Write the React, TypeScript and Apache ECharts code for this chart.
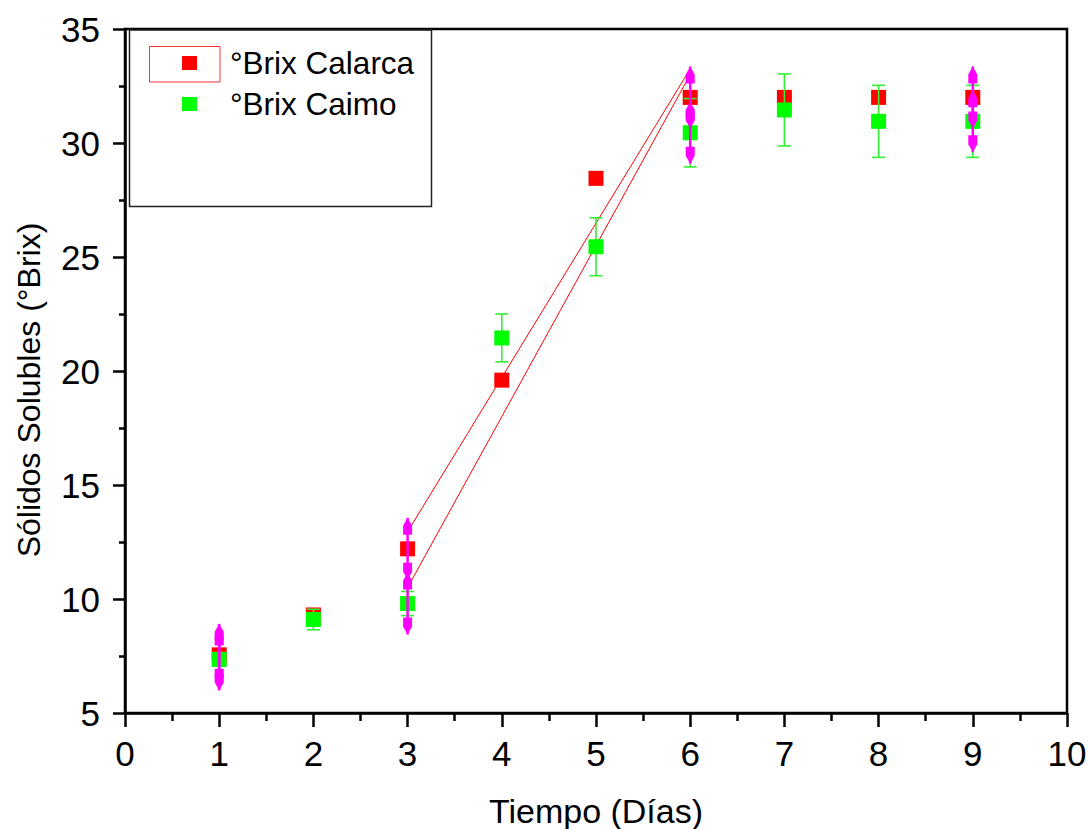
import React, { useEffect, useRef } from "react";
import * as echarts from "echarts";

const days = [1, 2, 3, 4, 5, 6, 7, 8, 9];
const calarca = [7.55, 9.3, 12.2, 19.6, 28.45, 32.0, 32.0, 32.0, 32.0];
const caimo = [7.35, 9.1, 9.8, 21.45, 25.45, 30.45, 31.45, 30.95, 30.95];
const caimoErr = [0.3, 0.45, 0.53, 1.05, 1.27, 1.5, 1.58, 1.58, 1.58];
const fitUpper = [
  [3, 12.95],
  [6, 33.25],
];
const fitLower = [
  [3, 10.5],
  [6, 33.0],
];
const selectorDays = [1, 3, 6, 9];
const xTicks = { min: 0, max: 10, step: 1 };
const yTicks = { min: 5, max: 35, step: 5 };

const FONT = "'Liberation Sans', Arial, sans-serif";
const RED = "#ff0000";
const GREEN = "#00ff00";
const GREEN_BAR = "#33ee33";
const MAGENTA = "#ff00ff";

export default function App() {
  const ref = useRef<HTMLDivElement>(null);

  useEffect(() => {
    if (!ref.current) return;
    const chart = echarts.init(ref.current, undefined, { renderer: "svg" });

    const calData = days.map((d, i) => [d, calarca[i]]);
    const caiData = days.map((d, i) => [d, caimo[i]]);
    const errData = days.map((d, i) => [d, caimo[i] - caimoErr[i], caimo[i] + caimoErr[i]]);
    const selData: number[][] = [];
    selectorDays.forEach((d) => {
      const i = days.indexOf(d);
      selData.push([d, calarca[i]]);
      selData.push([d, caimo[i]]);
    });

    const axisLabel = { fontSize: 35, color: "#000", fontFamily: FONT };

    chart.setOption({
      animation: false,
      backgroundColor: "#fff",
      grid: {
        left: 125,
        top: 29,
        width: 942,
        height: 684,
        show: true,
        borderColor: "#000",
        borderWidth: 2.5,
        backgroundColor: "transparent",
        containLabel: false,
        outerBoundsMode: "none",
      },
      legend: {
        orient: "vertical",
        left: 177,
        top: 42,
        itemWidth: 15,
        itemHeight: 14,
        itemGap: 9,
        icon: "rect",
        data: ["°Brix Calarca", "°Brix Caimo"],
        textStyle: { fontSize: 31.5, color: "#000", fontFamily: FONT, padding: [0, 0, 0, 28] },
        selectedMode: false,
      },
      graphic: [
        {
          type: "rect",
          shape: { x: 129.5, y: 30, width: 302, height: 176.5 },
          style: { fill: "none", stroke: "#222", lineWidth: 1.5 },
          z: 1,
        },
        {
          type: "rect",
          shape: { x: 149.5, y: 46.5, width: 70.5, height: 35.5 },
          style: { fill: "none", stroke: "#ff3030", lineWidth: 1 },
          z: 10,
        },
        {
          type: "text",
          x: 29,
          y: 390,
          rotation: Math.PI / 2,
          style: {
            text: "Sólidos Solubles (°Brix)",
            fontSize: 32,
            fontFamily: FONT,
            fill: "#000",
            align: "center",
            verticalAlign: "middle",
          },
          z: 10,
        },
      ],
      xAxis: {
        type: "value",
        min: xTicks.min,
        max: xTicks.max,
        interval: xTicks.step,
        name: "Tiempo (Días)",
        nameLocation: "middle",
        nameGap: 81,
        nameTextStyle: { fontSize: 34, color: "#000", fontFamily: FONT },
        axisLine: { show: true, lineStyle: { color: "#000", width: 2.5 } },
        axisTick: { show: true, inside: false, length: 14, lineStyle: { color: "#000", width: 2.5 } },
        minorTick: { show: true, splitNumber: 2, length: 8, lineStyle: { color: "#000", width: 2.5 } },
        splitLine: { show: false },
        axisLabel: { ...axisLabel, margin: 23 },
      },
      yAxis: {
        type: "value",
        min: yTicks.min,
        max: yTicks.max,
        interval: yTicks.step,
        axisLine: { show: true, lineStyle: { color: "#000", width: 2.5 } },
        axisTick: { show: true, inside: false, length: 12, lineStyle: { color: "#000", width: 2.5 } },
        minorTick: { show: true, splitNumber: 2, length: 6, lineStyle: { color: "#000", width: 2.5 } },
        splitLine: { show: false },
        axisLabel: { ...axisLabel, margin: 25 },
      },
      series: [
        {
          name: "°Brix Calarca",
          type: "scatter",
          symbol: "rect",
          symbolSize: 15,
          itemStyle: { color: RED, opacity: 1 },
          data: calData,
          z: 2,
        },
        {
          name: "fit-upper",
          type: "line",
          data: fitUpper,
          showSymbol: false,
          symbol: "none",
          lineStyle: { color: RED, width: 1 },
          z: 3,
          silent: true,
        },
        {
          name: "fit-lower",
          type: "line",
          data: fitLower,
          showSymbol: false,
          symbol: "none",
          lineStyle: { color: RED, width: 1 },
          z: 3,
          silent: true,
        },
        {
          name: "caimo-err",
          type: "custom",
          z: 4,
          silent: true,
          data: errData,
          renderItem: (params: any, api: any) => {
            const x = api.value(0);
            const p1 = api.coord([x, api.value(1)]);
            const p2 = api.coord([x, api.value(2)]);
            const cw = 6.5;
            const style = { stroke: GREEN_BAR, lineWidth: 1.6 };
            return {
              type: "group",
              children: [
                { type: "line", shape: { x1: p1[0], y1: p1[1], x2: p2[0], y2: p2[1] }, style },
                { type: "line", shape: { x1: p1[0] - cw, y1: p1[1], x2: p1[0] + cw, y2: p1[1] }, style },
                { type: "line", shape: { x1: p2[0] - cw, y1: p2[1], x2: p2[0] + cw, y2: p2[1] }, style },
              ],
            };
          },
        },
        {
          name: "°Brix Caimo",
          type: "scatter",
          symbol: "rect",
          symbolSize: 15,
          itemStyle: { color: GREEN, opacity: 1 },
          data: caiData,
          z: 5,
        },
        {
          name: "selector",
          type: "custom",
          z: 6,
          silent: true,
          data: selData,
          renderItem: (params: any, api: any) => {
            const p = api.coord([api.value(0), api.value(1)]);
            const cx = p[0];
            const top = p[1] - 31;
            const bot = p[1] + 31;
            const style = { fill: MAGENTA };
            return {
              type: "group",
              children: [
                {
                  type: "line",
                  shape: { x1: cx, y1: top, x2: cx, y2: bot },
                  style: { stroke: MAGENTA, lineWidth: 2.5 },
                },
                {
                  type: "polygon",
                  shape: {
                    points: [
                      [cx, top],
                      [cx + 4.5, top + 8],
                      [cx + 4.5, top + 17],
                      [cx - 4.5, top + 17],
                      [cx - 4.5, top + 8],
                    ],
                  },
                  style,
                },
                {
                  type: "polygon",
                  shape: {
                    points: [
                      [cx, bot],
                      [cx + 4.5, bot - 8],
                      [cx + 4.5, bot - 17],
                      [cx - 4.5, bot - 17],
                      [cx - 4.5, bot - 8],
                    ],
                  },
                  style,
                },
              ],
            };
          },
        },
      ],
    });

    return () => chart.dispose();
  }, []);

  return (
    <div
      ref={ref}
      style={{ position: "absolute", left: 0, top: 0, width: 1088, height: 829 }}
    />
  );
}
